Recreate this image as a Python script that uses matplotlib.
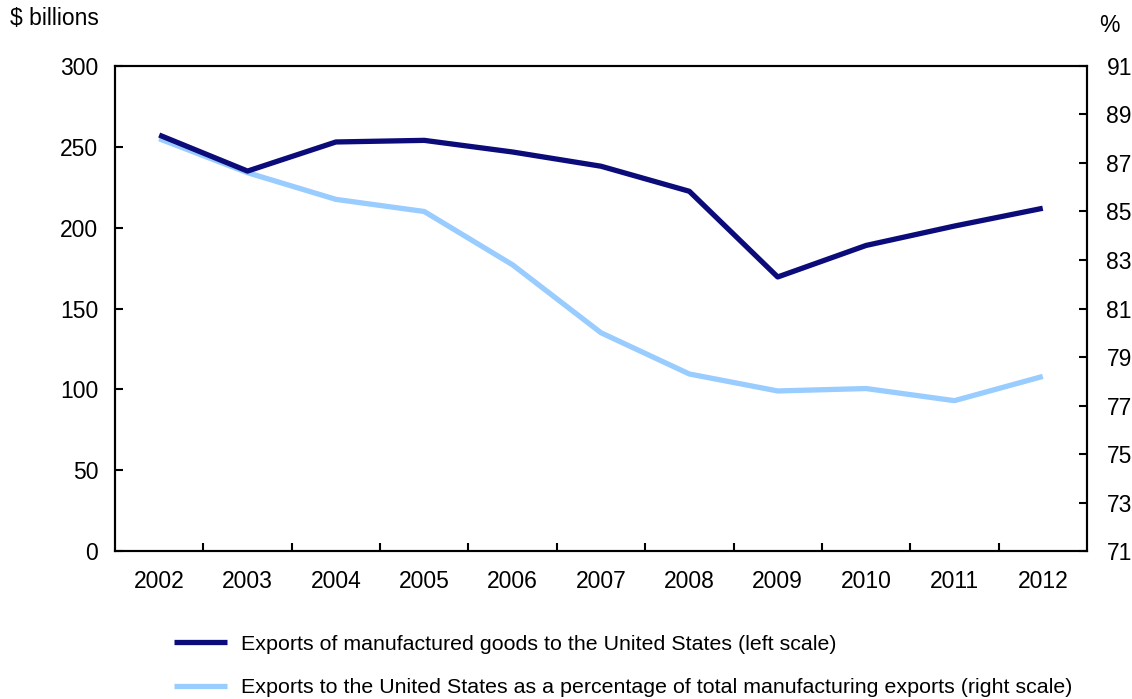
import matplotlib
matplotlib.use("Agg")
import matplotlib.pyplot as plt
import numpy as np

years = ["2002", "2003", "2004", "2005", "2006", "2007", "2008", "2009", "2010", "2011", "2012"]
exports_bn = [257.3, 235.0, 253.0, 254.0, 246.8, 238.0, 222.5, 169.5, 189.0, 201.0, 212.0]
share_pct = [88.0, 86.6, 85.5, 85.0, 82.8, 80.0, 78.3, 77.6, 77.7, 77.2, 78.2]

DARK = "#0b0b7a"
LIGHT = "#99ccff"

plt.rcParams["font.family"] = ["Liberation Sans", "DejaVu Sans"]
plt.rcParams["font.size"] = 16.5

fig = plt.figure(figsize=(11.32, 6.99), dpi=100)
ax = fig.add_axes([0.1016, 0.2117, 0.8586, 0.6939])
ax2 = ax.twinx()

x = np.arange(len(years))
ax.plot(x, exports_bn, color=DARK, lw=3.8, solid_capstyle="butt", zorder=3,
        label="Exports of manufactured goods to the United States (left scale)")
ax2.plot(x, share_pct, color=LIGHT, lw=3.8, solid_capstyle="butt", zorder=2,
         label="Exports to the United States as a percentage of total manufacturing exports (right scale)")
ax.set_zorder(ax2.get_zorder() + 1)
ax.patch.set_visible(False)

ax.set_xlim(-0.5, len(years) - 0.5)
ax.set_ylim(0, 300)
ax.set_yticks(np.arange(0, 301, 50))
ax2.set_ylim(71, 91)
ax2.set_yticks(np.arange(71, 92, 2))

ax.set_xticks(x)
ax.set_xticklabels(years)
ax.set_xticks(np.arange(0.5, len(years) - 1, 1), minor=True)
ax.tick_params(axis="x", which="major", length=0, pad=14)
ax.tick_params(axis="x", which="minor", direction="in", length=6, width=1.5)
ax.tick_params(axis="y", direction="in", length=6, width=1.5, pad=12)
ax2.tick_params(axis="y", direction="in", length=6, width=1.5, pad=14)

for a in (ax, ax2):
    for s in a.spines.values():
        s.set_linewidth(1.5)

fig.text(0.009, 0.973, "$ billions", ha="left", va="center")
fig.text(0.989, 0.963, "%", ha="right", va="center")

h1, l1 = ax.get_legend_handles_labels()
h2, l2 = ax2.get_legend_handles_labels()
fig.legend(h1 + h2, l1 + l2, loc="upper left", bbox_to_anchor=(0.146, 0.104),
           frameon=False, handlelength=2.5, handletextpad=0.65, labelspacing=1.15,
           borderaxespad=0, fontsize=15.4)

fig.savefig("out.png", dpi=100)
